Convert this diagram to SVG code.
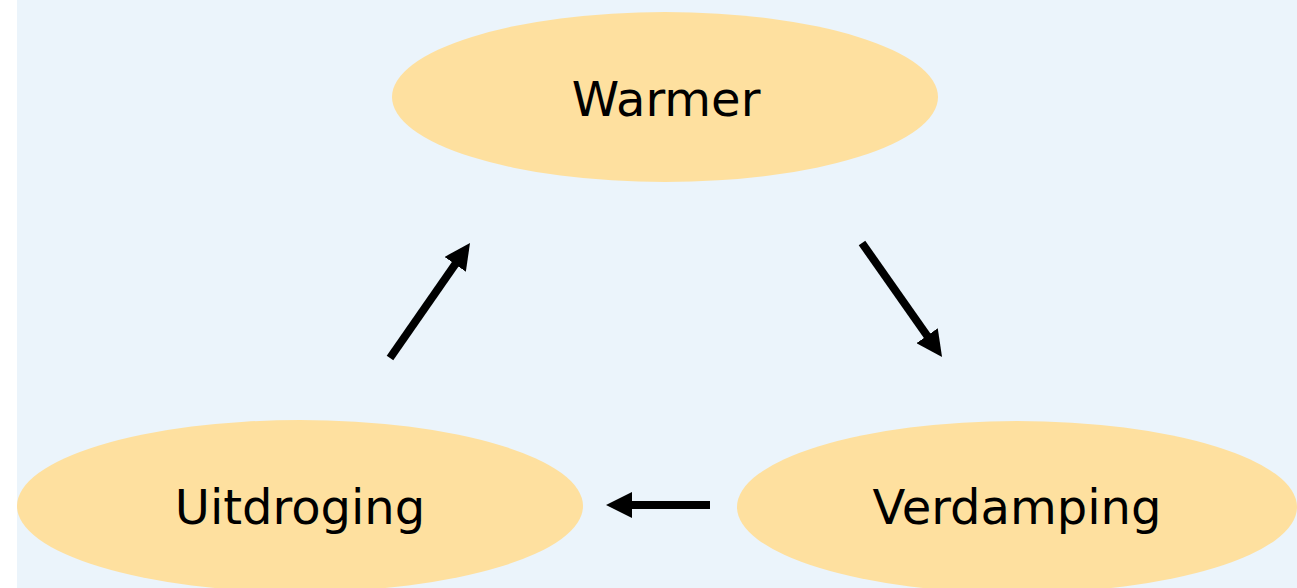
<svg xmlns="http://www.w3.org/2000/svg" width="1297" height="588" viewBox="0 0 1297 588">
  <style>
    .node ellipse { fill: #FEE09F; }
    .node text { font-family: "DejaVu Sans", Verdana, sans-serif; font-size: 48px; fill: #000; text-anchor: middle; }
    .conn line { stroke: #000; stroke-width: 8; }
  </style>
  <defs>
    <marker id="ah" viewBox="0 0 26 26" refX="16" refY="13" markerWidth="26" markerHeight="26" orient="auto" markerUnits="userSpaceOnUse">
      <path d="M0,0 L26,13 L0,26 Z" fill="#000"/>
    </marker>
  </defs>
  <rect x="0" y="0" width="1297" height="588" fill="#FFFFFF"/>
  <rect x="17" y="0" width="1280" height="588" fill="#EBF4FB"/>
  <g id="warmer" class="node">
    <ellipse cx="665" cy="97" rx="273" ry="85"/>
    <text x="666" y="116">Warmer</text>
  </g>
  <g id="verdamping" class="node">
    <ellipse cx="1017" cy="507" rx="280" ry="86"/>
    <text x="1017" y="524">Verdamping</text>
  </g>
  <g id="uitdroging" class="node">
    <ellipse cx="300" cy="506" rx="283" ry="86"/>
    <text x="300" y="524">Uitdroging</text>
  </g>
  <g id="connectors" class="conn">
    <line x1="862" y1="243" x2="936.3" y2="348.8" marker-end="url(#ah)"/>
    <line x1="710" y1="505" x2="616" y2="505" marker-end="url(#ah)"/>
    <line x1="390" y1="358" x2="464.3" y2="251.2" marker-end="url(#ah)"/>
  </g>
</svg>
